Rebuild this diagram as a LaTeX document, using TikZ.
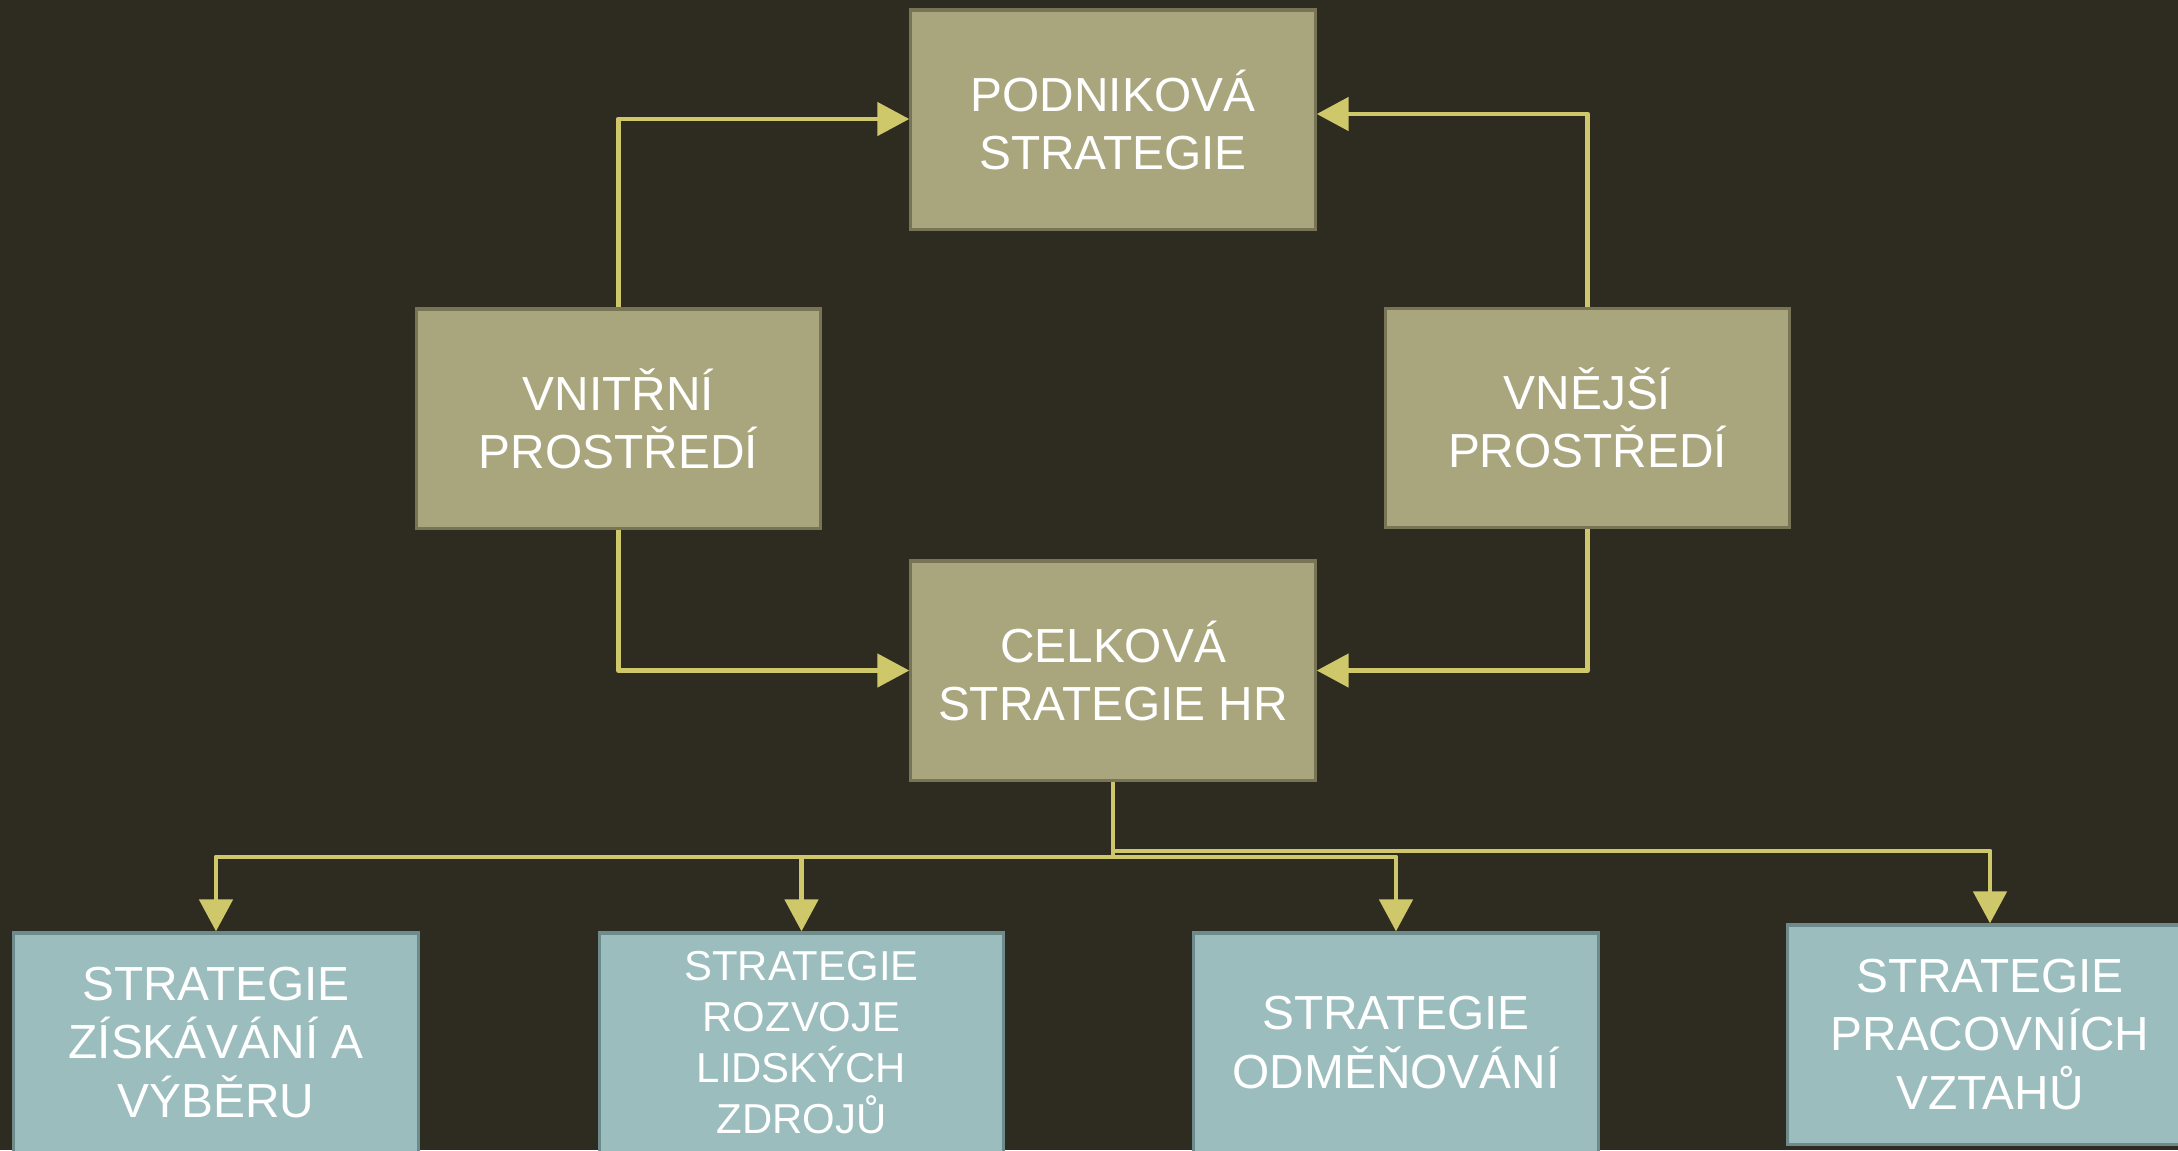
\documentclass[tikz,border=0pt]{standalone}
\usepackage{fontspec}
\setmainfont{Liberation Sans}
\usetikzlibrary{arrows.meta}
\definecolor{bgc}{HTML}{2E2B20}
\definecolor{olivef}{HTML}{A9A57C}
\definecolor{oliveb}{HTML}{787556}
\definecolor{tealf}{HTML}{9CBDBD}
\definecolor{tealb}{HTML}{6D8B8B}
\definecolor{arrc}{HTML}{CEC86A}
\tikzset{
  box/.style={rectangle, minimum width=4.04cm, minimum height=2.19cm, inner sep=0pt,
    line width=0.9pt, text=white, align=center,
    font=\fontsize{13.6pt}{16.5pt}\selectfont},
  obox/.style={box, fill=olivef, draw=oliveb},
  tbox/.style={box, fill=tealf, draw=tealb},
  conn/.style={draw=arrc, line width=1.4pt, line join=round, -{Triangle[length=0.32cm,width=0.33cm]}},
  connline/.style={draw=arrc, line width=1.4pt}
}
\begin{document}
\begin{tikzpicture}[x=0.01cm,y=-0.01cm]
\useasboundingbox (0,0) rectangle (2178,1150);
\clip (0,0) rectangle (2178,1150);
\fill[bgc] (0,0) rectangle (2178,1150);

\node[obox] (ps) at (1113,119.5) {PODNIKOVÁ\\STRATEGIE};
\node[obox] (vn) at (618.5,418.5) {VNITŘNÍ\\PROSTŘEDÍ};
\node[obox] (ve) at (1587.5,418) {VNĚJŠÍ\\PROSTŘEDÍ};
\node[obox] (c) at (1113,670.5) {CELKOVÁ\\STRATEGIE HR};

\node[tbox] (b1) at (216,1042.5) {STRATEGIE\\ZÍSKÁVÁNÍ A\\VÝBĚRU};
\node[tbox, font=\fontsize{11.9pt}{14.5pt}\selectfont] (b2) at (801.5,1042.5) {STRATEGIE\\ROZVOJE\\LIDSKÝCH\\ZDROJŮ};
\node[tbox] (b3) at (1396,1042.5) {STRATEGIE\\ODMĚŇOVÁNÍ};
\node[tbox] (b4) at (1990,1034.5) {STRATEGIE\\PRACOVNÍCH\\VZTAHŮ};

\draw[conn] (vn.north) |- ([yshift=0.005cm]ps.west);
\draw[conn] (ve.north) |- ([yshift=0.055cm]ps.east);
\draw[conn] (vn.south) |- (c.west);
\draw[conn] (ve.south) |- (c.east);

\coordinate (busa) at (1113,857);
\coordinate (busb) at (1113,851);
\draw[connline] (c.south) -- (busa);
\draw[conn] (busa) -| (b1.north);
\draw[conn] (busa) -| (b2.north);
\draw[conn] (busa) -| (b3.north);
\draw[conn] (busb) -| (b4.north);
\end{tikzpicture}
\end{document}
